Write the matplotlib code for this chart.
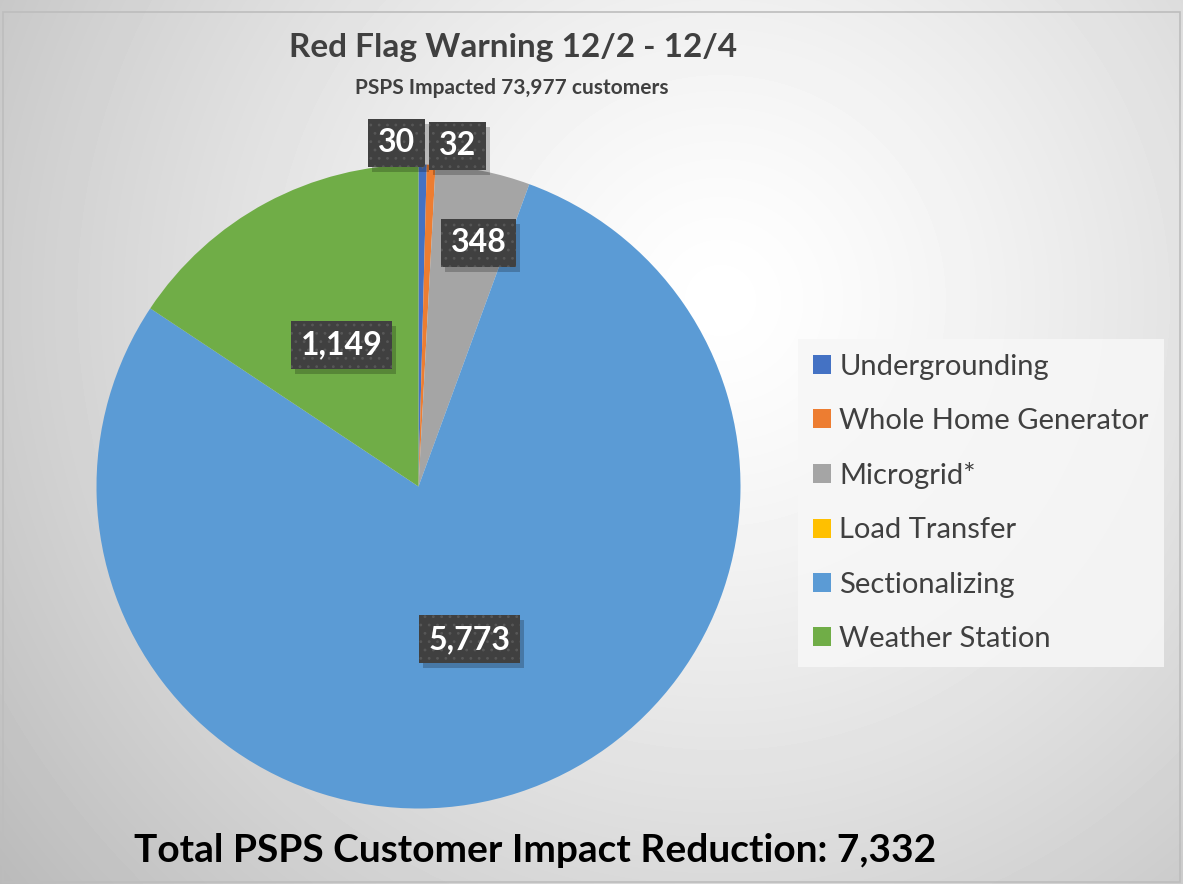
import matplotlib
matplotlib.use("Agg")
import matplotlib.pyplot as plt
import numpy as np
from matplotlib.patches import Rectangle
from matplotlib.transforms import IdentityTransform

plt.rcParams['font.family'] = ['Lato', 'DejaVu Sans']
plt.rcParams['hatch.linewidth'] = 0.8

# data
categories = ['Undergrounding', 'Whole Home Generator', 'Microgrid*',
              'Load Transfer', 'Sectionalizing', 'Weather Station']
values = [30, 32, 348, 0, 5773, 1149]
colors = ['#4472C4', '#ED7D31', '#A5A5A5', '#FFC000', '#5B9BD5', '#70AD47']
title = 'Red Flag Warning 12/2 - 12/4'
subtitle = 'PSPS Impacted 73,977 customers'
footer = 'Total PSPS Customer Impact Reduction: 7,332'

W, H = 1183, 884
fig = plt.figure(figsize=(W / 100, H / 100), dpi=100)

# background radial gradient
bg = fig.add_axes([0, 0, 1, 1], zorder=-10)
yy, xx = np.mgrid[0:H, 0:W]
d = np.hypot(xx - 720, yy - 300) / 900
shade = np.clip(1.0 - 0.26 * d ** 1.3, 0, 1)
bg.imshow(shade, cmap='gray', vmin=0, vmax=1, extent=(0, W, H, 0), aspect='auto')
bg.add_patch(Rectangle((3, 12), W - 6, H - 14, fill=False, edgecolor='#bdbdbd', lw=1.2))
bg.set_xlim(0, W)
bg.set_ylim(H, 0)
bg.axis('off')

# pie
cx, cy, R = 418.5, 486.5, 322
ax = fig.add_axes([(cx - R) / W, (H - cy - R) / H, 2 * R / W, 2 * R / H])
wedges, _ = ax.pie(values, colors=colors, startangle=90, counterclock=False,
                   radius=1, wedgeprops=dict(linewidth=0))
ax.set_xlim(-1, 1)
ax.set_ylim(-1, 1)
ax.set_aspect('equal')
ax.axis('off')

# label placement: (radius fraction, angle shift in degrees)
place = {0: (1.07, 4.4), 1: (1.065, -4.3), 2: (0.78, -2.3), 4: (0.50, 0.2), 5: (0.50, 0.3)}

box = dict(boxstyle='square,pad=0.3', facecolor='#404040', edgecolor='#575757',
           linewidth=0, hatch='..')

total = sum(values)
start = 90.0
labels = []
for i, v in enumerate(values):
    sweep = v / total * 360
    mid = start - sweep / 2
    start -= sweep
    if i not in place:
        continue
    r, shift = place[i]
    a = np.deg2rad(mid + shift)
    x, y = r * np.cos(a), r * np.sin(a)
    if r > 1:
        # leader line to wedge edge
        ea = np.deg2rad(mid)
        ax.plot([x + (0.06 if i == 0 else -0.06), 0.99 * np.cos(ea)],
                [y - 0.02, 0.99 * np.sin(ea)], color='#7f7f7f', lw=1, zorder=3,
                clip_on=False)
    t = ax.text(x, y, f'{v:,}', ha='center', va='center', fontsize=23,
                fontweight='bold', color='white', bbox=box, zorder=5, clip_on=False)
    labels.append(t)

# titles
fig.text(513 / W, 1 - 47 / H, title, ha='center', va='center', fontsize=24,
         fontweight='bold', color='#404040')
fig.text(512 / W, 1 - 88 / H, subtitle, ha='center', va='center', fontsize=15,
         fontweight='bold', color='#404040')
fig.text(535 / W, 1 - 851 / H, footer, ha='center', va='center', fontsize=28,
         fontweight='bold', color='black')

# legend
leg = fig.legend(wedges, categories, loc='upper left',
                 bbox_to_anchor=(798 / W, 1 - 339 / H), borderaxespad=0,
                 frameon=True, fancybox=False, facecolor='#f7f7f7',
                 edgecolor='none', framealpha=0.85, fontsize=21,
                 handlelength=0.62, handleheight=0.62, handletextpad=0.3,
                 labelspacing=0.97, borderpad=0.5)
for t in leg.get_texts():
    t.set_color('#404040')

# drop shadows under the label boxes
fig.canvas.draw()
rend = fig.canvas.get_renderer()
for t in labels:
    bb = t.get_bbox_patch().get_window_extent(rend)
    ax.add_patch(Rectangle((bb.x0 + 4, bb.y0 - 5), bb.width, bb.height,
                           transform=IdentityTransform(), facecolor='black',
                           alpha=0.22, linewidth=0, zorder=4, clip_on=False))

fig.savefig('out.png', dpi=100)
